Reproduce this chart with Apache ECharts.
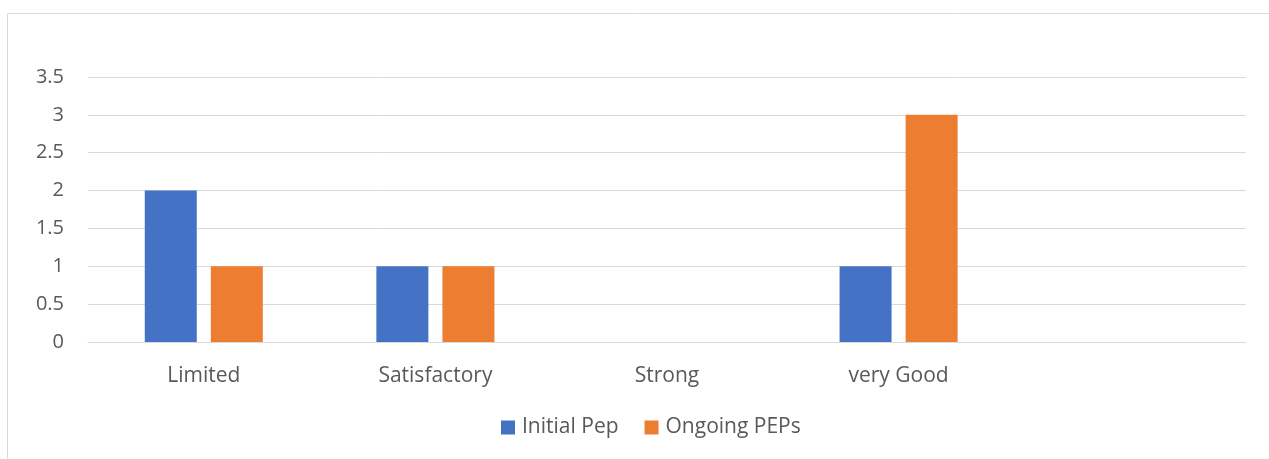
<!DOCTYPE html>
<html><head><meta charset="utf-8">
<script src="https://cdn.jsdelivr.net/npm/echarts@6/dist/echarts.min.js"></script>
<style>html,body{margin:0;padding:0;background:#fff}#c{width:1269px;height:459px}</style>
</head><body><div id="c"></div>
<script>
const categories = ['Limited', 'Satisfactory', 'Strong', 'very Good', ''];
const initialPep = [2, 1, null, 1, null];
const ongoingPEPs = [1, 1, null, 3, null];
const yTicks = { min: 0, max: 3.5, interval: 0.5 };

const FONT = 'Open Sans';
const chart = echarts.init(document.getElementById('c'), null, { renderer: 'canvas' });
chart.setOption({
  animation: false,
  textStyle: { fontFamily: FONT },
  graphic: [{ type: 'rect', shape: { x: 7.5, y: 13.5, width: 1300, height: 500 }, style: { fill: 'none', stroke: '#d9d9d9', lineWidth: 1 }, silent: true }],
  grid: { left: 88, right: 23, top: 77, bottom: 117 },
  legend: {
    bottom: 16, left: 496, itemWidth: 14, itemHeight: 14, itemGap: 26,
    icon: 'rect',
    textStyle: { color: '#595959', fontSize: 21, fontFamily: FONT, padding: [0, 0, 0, 2] },
    data: ['Initial Pep', 'Ongoing PEPs']
  },
  xAxis: {
    type: 'category', data: categories,
    axisLine: { show: true, lineStyle: { color: '#d9d9d9', width: 1 } },
    axisTick: { show: false },
    axisLabel: { color: '#595959', fontSize: 21, margin: 24, fontFamily: FONT }
  },
  yAxis: {
    type: 'value', min: yTicks.min, max: yTicks.max, interval: yTicks.interval,
    axisLine: { show: false }, axisTick: { show: false },
    splitLine: { lineStyle: { color: '#d9d9d9', width: 1 } },
    axisLabel: { color: '#595959', fontSize: 20, margin: 24, fontFamily: FONT }
  },
  series: [
    { name: 'Initial Pep', type: 'bar', data: initialPep, barWidth: 52, barGap: '27%', itemStyle: { color: '#4472C4' } },
    { name: 'Ongoing PEPs', type: 'bar', data: ongoingPEPs, barWidth: 52, itemStyle: { color: '#ED7D31' } }
  ]
});
</script></body></html>
